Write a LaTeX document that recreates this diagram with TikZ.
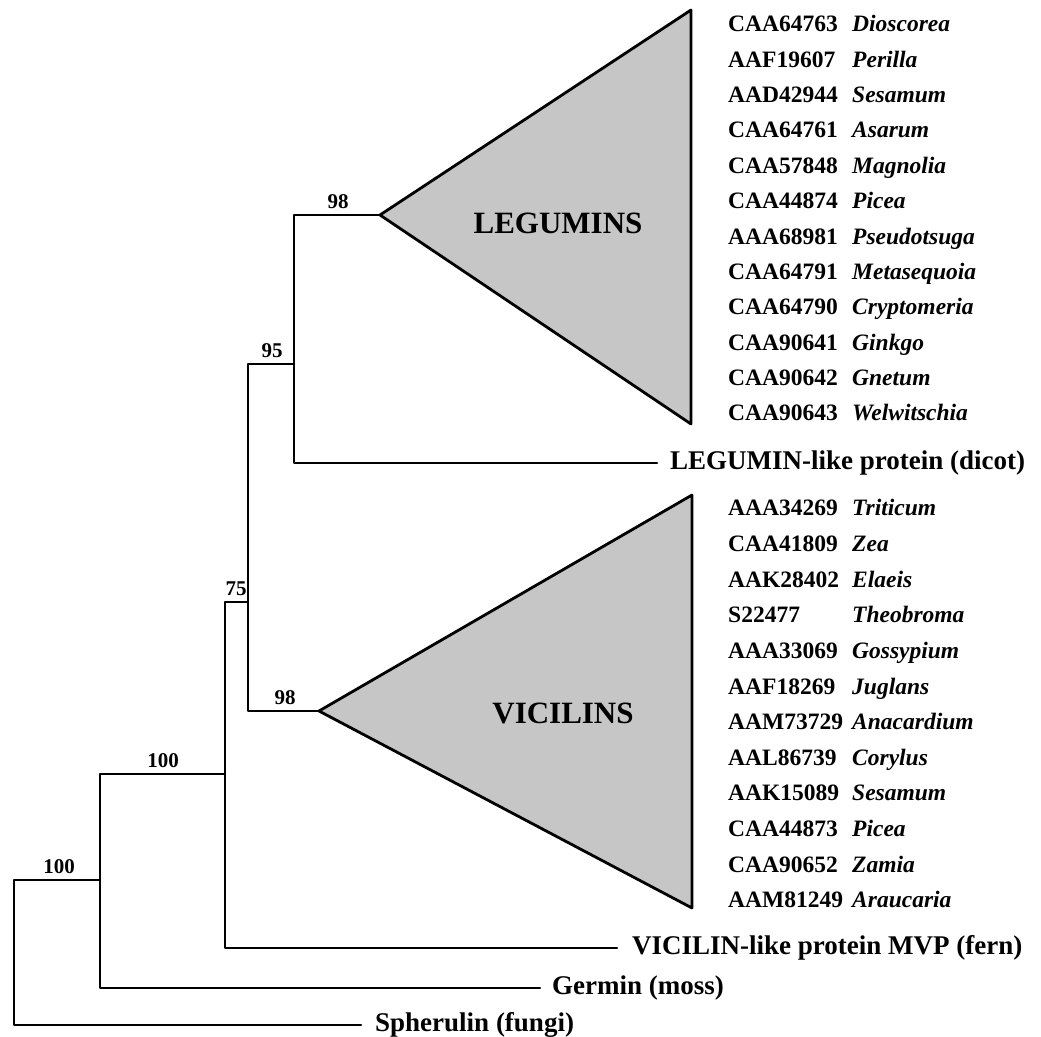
\documentclass[tikz,border=0pt]{standalone}
\usepackage{fontspec}
\setmainfont{Liberation Serif}
\usetikzlibrary{positioning}
\definecolor{cladegray}{RGB}{198,198,198}
\tikzset{
  branch/.style={line width=2.6pt},
  clade/.style={line width=2.8pt, fill=cladegray},
  boot/.style={anchor=base, inner sep=0pt, font=\fontsize{21}{21}\selectfont\bfseries},
  taxon/.style={anchor=base west, inner sep=0pt, font=\fontsize{23.5}{24}\selectfont\bfseries},
  outlier/.style={anchor=west, inner sep=0pt, font=\fontsize{27}{27}\selectfont\bfseries},
  groupname/.style={inner sep=0pt, font=\fontsize{31}{31}\selectfont\bfseries}
}
\newcommand{\acc}[2]{\makebox[124pt][l]{#1}\textit{#2}}
\begin{document}
\begin{tikzpicture}[x=1pt, y=-1pt, line join=round, line cap=round]
\useasboundingbox (0,0) rectangle (1041,1036);
% tree
\coordinate (root) at (14,880);
\coordinate (A) at (100,880);
\coordinate (B) at (225,774);
\coordinate (C) at (248,602);
\coordinate (D) at (294,364);
\coordinate (legapex) at (380,215);
\coordinate (vicapex) at (319,711);
\coordinate (legtop) at (691,10);
\coordinate (legbot) at (691,424);
\coordinate (victop) at (692,495);
\coordinate (vicbot) at (692,908);
\coordinate (sphend) at (361,1025);
\coordinate (germend) at (540,988);
\coordinate (vilend) at (617,948);
\coordinate (lilend) at (657,463);
\draw[branch] (A) -- (root) |- (sphend);
\draw[branch] (B) -| (A) |- (germend);
\draw[branch] (C) -| (B) |- (vilend);
\draw[branch] (D) -| (C) |- (vicapex);
\draw[branch] (legapex) -| (D) |- (lilend);
\draw[clade] (legapex) -- (legtop) -- (legbot) -- cycle;
\draw[clade] (vicapex) -- (victop) -- (vicbot) -- cycle;
\node[groupname] (legname) at (558,223) {LEGUMINS};
\node[groupname] (vicname) at (563,713) {VICILINS};
% bootstrap values
\node[boot] (b98l) at (338,208) {98};
\node[boot] (b95) at (272,357) {95};
\node[boot] (b75) at (236,595) {75};
\node[boot] (b98v) at (285,704) {98};
\node[boot] (b100u) at (163,767) {100};
\node[boot] (b100l) at (59,873) {100};
% outgroups
\node[outlier, right=13pt of lilend] (lil) {LEGUMIN-like protein (dicot)};
\node[outlier, right=15pt of vilend] (vil) {VICILIN-like protein MVP (fern)};
\node[outlier, right=12pt of germend] (germ) {Germin (moss)};
\node[outlier, right=14pt of sphend] (sph) {Spherulin (fungi)};
% legumins
\node[taxon] (leg1) at (728,31.8) {\acc{CAA64763}{Dioscorea}};
\node[taxon] (leg2) at (728,67.2) {\acc{AAF19607}{Perilla}};
\node[taxon] (leg3) at (728,102.5) {\acc{AAD42944}{Sesamum}};
\node[taxon] (leg4) at (728,137.9) {\acc{CAA64761}{Asarum}};
\node[taxon] (leg5) at (728,173.2) {\acc{CAA57848}{Magnolia}};
\node[taxon] (leg6) at (728,208.6) {\acc{CAA44874}{Picea}};
\node[taxon] (leg7) at (728,244) {\acc{AAA68981}{Pseudotsuga}};
\node[taxon] (leg8) at (728,279.3) {\acc{CAA64791}{Metasequoia}};
\node[taxon] (leg9) at (728,314.7) {\acc{CAA64790}{Cryptomeria}};
\node[taxon] (leg10) at (728,350) {\acc{CAA90641}{Ginkgo}};
\node[taxon] (leg11) at (728,385.4) {\acc{CAA90642}{Gnetum}};
\node[taxon] (leg12) at (728,420.8) {\acc{CAA90643}{Welwitschia}};
% vicilins
\node[taxon] (vic1) at (728,515.8) {\acc{AAA34269}{Triticum}};
\node[taxon] (vic2) at (728,551.4) {\acc{CAA41809}{Zea}};
\node[taxon] (vic3) at (728,587.1) {\acc{AAK28402}{Elaeis}};
\node[taxon] (vic4) at (728,622.7) {\acc{S22477}{Theobroma}};
\node[taxon] (vic5) at (728,658.4) {\acc{AAA33069}{Gossypium}};
\node[taxon] (vic6) at (728,694) {\acc{AAF18269}{Juglans}};
\node[taxon] (vic7) at (728,729.6) {\acc{AAM73729}{Anacardium}};
\node[taxon] (vic8) at (728,765.3) {\acc{AAL86739}{Corylus}};
\node[taxon] (vic9) at (728,800.9) {\acc{AAK15089}{Sesamum}};
\node[taxon] (vic10) at (728,836.6) {\acc{CAA44873}{Picea}};
\node[taxon] (vic11) at (728,872.2) {\acc{CAA90652}{Zamia}};
\node[taxon] (vic12) at (728,907.8) {\acc{AAM81249}{Araucaria}};
\end{tikzpicture}
\end{document}
